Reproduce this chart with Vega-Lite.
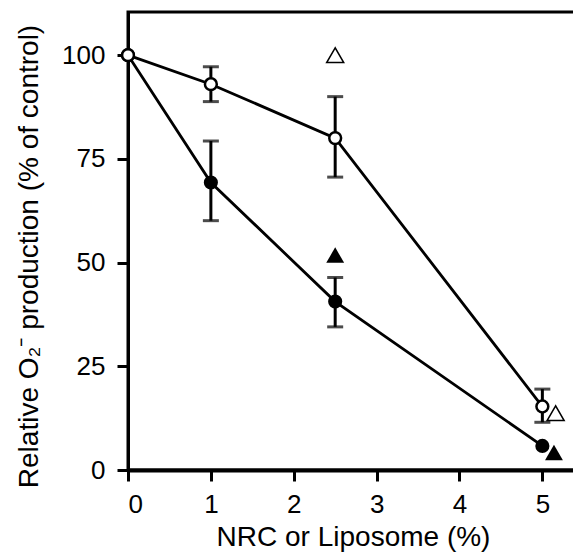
{
  "$schema": "https://vega.github.io/schema/vega-lite/v6.json",
  "width": 450,
  "height": 458,
  "autosize": "none",
  "padding": {"left": 128, "top": 12, "right": 0, "bottom": 85},
  "background": "white",
  "config": {
    "view": {"stroke": "black", "strokeWidth": 3},
    "font": "Liberation Sans",
    "axis": {
      "grid": false,
      "domainColor": "black",
      "tickColor": "black",
      "labelColor": "black",
      "titleColor": "black",
      "labelFont": "Liberation Sans",
      "titleFont": "Liberation Sans",
      "titleFontWeight": "normal",
      "tickSize": 11,
      "tickWidth": 3
    }
  },
  "datasets": {
    "circles": [
      {"series": "filled", "x": 0, "y": 100},
      {"series": "filled", "x": 1, "y": 69.3, "lo": 60.1, "hi": 79.3},
      {"series": "filled", "x": 2.5, "y": 40.6, "lo": 34.5, "hi": 46.4},
      {"series": "filled", "x": 5, "y": 5.8},
      {"series": "open", "x": 0, "y": 100},
      {"series": "open", "x": 1, "y": 93, "lo": 88.8, "hi": 97.2},
      {"series": "open", "x": 2.5, "y": 80, "lo": 70.6, "hi": 90},
      {"series": "open", "x": 5, "y": 15.3, "lo": 11.5, "hi": 19.5}
    ],
    "triangles": [
      {"series": "open", "x": 2.5, "y": 100},
      {"series": "open", "x": 5.16, "y": 13.7},
      {"series": "filled", "x": 2.5, "y": 51.8},
      {"series": "filled", "x": 5.14, "y": 4.2}
    ]
  },
  "encoding": {
    "x": {
      "field": "x",
      "type": "quantitative",
      "scale": {"domain": [0, 5.43], "nice": false, "zero": false},
      "axis": {
        "values": [0, 1, 2, 3, 4, 5],
        "title": "NRC or Liposome (%)",
        "labelFontSize": 26,
        "titleFontSize": 28,
        "domainWidth": 4,
        "labelPadding": 10,
        "titlePadding": 6
      }
    },
    "y": {
      "field": "y",
      "type": "quantitative",
      "scale": {"domain": [0, 110.4], "nice": false},
      "axis": {
        "values": [0, 25, 50, 75, 100],
        "title": "Relative O₂⁻ production (% of control)",
        "labelFontSize": 26,
        "titleFontSize": 28,
        "titleY": 244,
        "domainWidth": 3,
        "labelPadding": 12,
        "titlePadding": 18
      }
    }
  },
  "layer": [
    {
      "data": {"name": "circles"},
      "mark": {"type": "line", "color": "black", "strokeWidth": 2.8},
      "encoding": {"detail": {"field": "series"}}
    },
    {
      "data": {"name": "circles"},
      "transform": [{"filter": "datum.lo != null"}],
      "mark": {"type": "rule", "color": "black", "strokeWidth": 3},
      "encoding": {"y": {"field": "lo", "type": "quantitative"}, "y2": {"field": "hi"}}
    },
    {
      "data": {"name": "circles"},
      "transform": [{"filter": "datum.lo != null"}],
      "mark": {"type": "tick", "orient": "horizontal", "color": "black", "size": 16, "thickness": 3},
      "encoding": {"y": {"field": "lo", "type": "quantitative"}}
    },
    {
      "data": {"name": "circles"},
      "transform": [{"filter": "datum.hi != null"}],
      "mark": {"type": "tick", "orient": "horizontal", "color": "black", "size": 16, "thickness": 3},
      "encoding": {"y": {"field": "hi", "type": "quantitative"}}
    },
    {
      "data": {"name": "circles"},
      "transform": [{"filter": "datum.series == 'filled'"}],
      "mark": {"type": "point", "shape": "circle", "filled": true, "color": "black", "opacity": 1, "size": 200}
    },
    {
      "data": {"name": "circles"},
      "transform": [{"filter": "datum.series == 'open'"}],
      "mark": {"type": "point", "shape": "circle", "filled": true, "fill": "white", "stroke": "black", "strokeWidth": 2.5, "opacity": 1, "size": 140}
    },
    {
      "data": {"name": "triangles"},
      "transform": [{"filter": "datum.series == 'filled'"}],
      "mark": {"type": "point", "shape": "triangle-up", "filled": true, "color": "black", "opacity": 1, "size": 320}
    },
    {
      "data": {"name": "triangles"},
      "transform": [{"filter": "datum.series == 'open'"}],
      "mark": {"type": "point", "shape": "triangle-up", "filled": true, "fill": "white", "stroke": "black", "strokeWidth": 1.5, "opacity": 1, "size": 290}
    }
  ]
}
